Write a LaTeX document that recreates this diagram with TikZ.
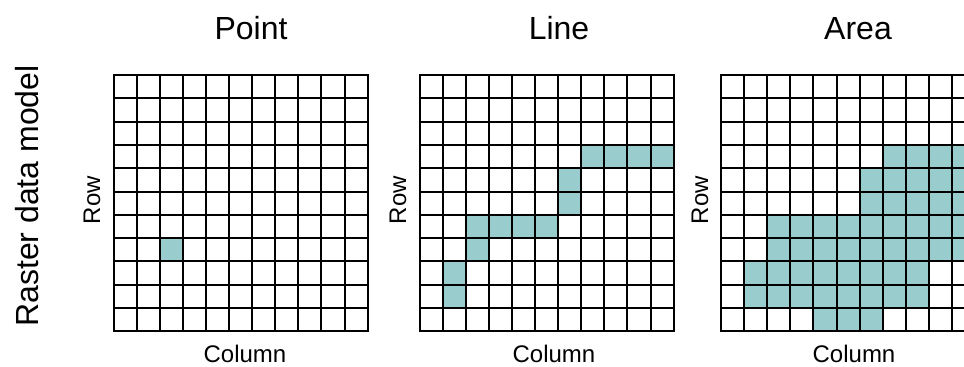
\documentclass[tikz,border=0pt]{standalone}
\usepackage{fontspec}
\setmainfont{Liberation Sans}
\definecolor{cellfill}{RGB}{153,204,204}

\begin{document}
\begin{tikzpicture}[x=0.75pt, y=-0.75pt,
    title/.style={font=\fontsize{24}{28}\selectfont, anchor=base},
    axislabel/.style={font=\fontsize{18}{21}\selectfont, anchor=base},
    cell/.style={fill=cellfill},
    gridline/.style={line width=1.5pt, line cap=rect}]
    \clip (0,0) rectangle (964,367);

    % point
    \begin{scope}[shift={(113.5,75)}, x=17.33pt, y=-17.48pt]
        \fill[cell] (2,7) rectangle ++(1,1);
        \foreach \i in {0,...,11} {
            \draw[gridline] (\i,0) -- (\i,11);
            \draw[gridline] (0,\i) -- (11,\i);
        }
    \end{scope}

    % line
    \begin{scope}[shift={(419.5,75)}, x=17.33pt, y=-17.48pt]
        \foreach \c/\r in {7/3,8/3,9/3,10/3,6/4,6/5,2/6,3/6,4/6,5/6,2/7,1/8,1/9}
            \fill[cell] (\c,\r) rectangle ++(1,1);
        \foreach \i in {0,...,11} {
            \draw[gridline] (\i,0) -- (\i,11);
            \draw[gridline] (0,\i) -- (11,\i);
        }
    \end{scope}

    % area
    \begin{scope}[shift={(721,75)}, x=17.33pt, y=-17.48pt]
        \fill[cell] (7,3) rectangle (11,4);
        \fill[cell] (6,4) rectangle (11,6);
        \fill[cell] (2,6) rectangle (11,8);
        \fill[cell] (1,8) rectangle (9,10);
        \fill[cell] (4,10) rectangle (7,11);
        \foreach \i in {0,...,11} {
            \draw[gridline] (\i,0) -- (\i,11);
            \draw[gridline] (0,\i) -- (11,\i);
        }
    \end{scope}

    \node[title] (point) at (251,40) {Point};
    \node[title] (line) at (559,40) {Line};
    \node[title] (area) at (858,40) {Area};

    \node[axislabel] (pcol) at (245,362) {Column};
    \node[axislabel] (lcol) at (554,362) {Column};
    \node[axislabel] (acol) at (854,362) {Column};

    \node[axislabel, rotate=90] (prow) at (100,200) {Row};
    \node[axislabel, rotate=90] (lrow) at (406,200) {Row};
    \node[axislabel, rotate=90] (arow) at (708,200) {Row};

    \node[title, rotate=90] (model) at (38,196) {Raster data model};
\end{tikzpicture}
\end{document}
